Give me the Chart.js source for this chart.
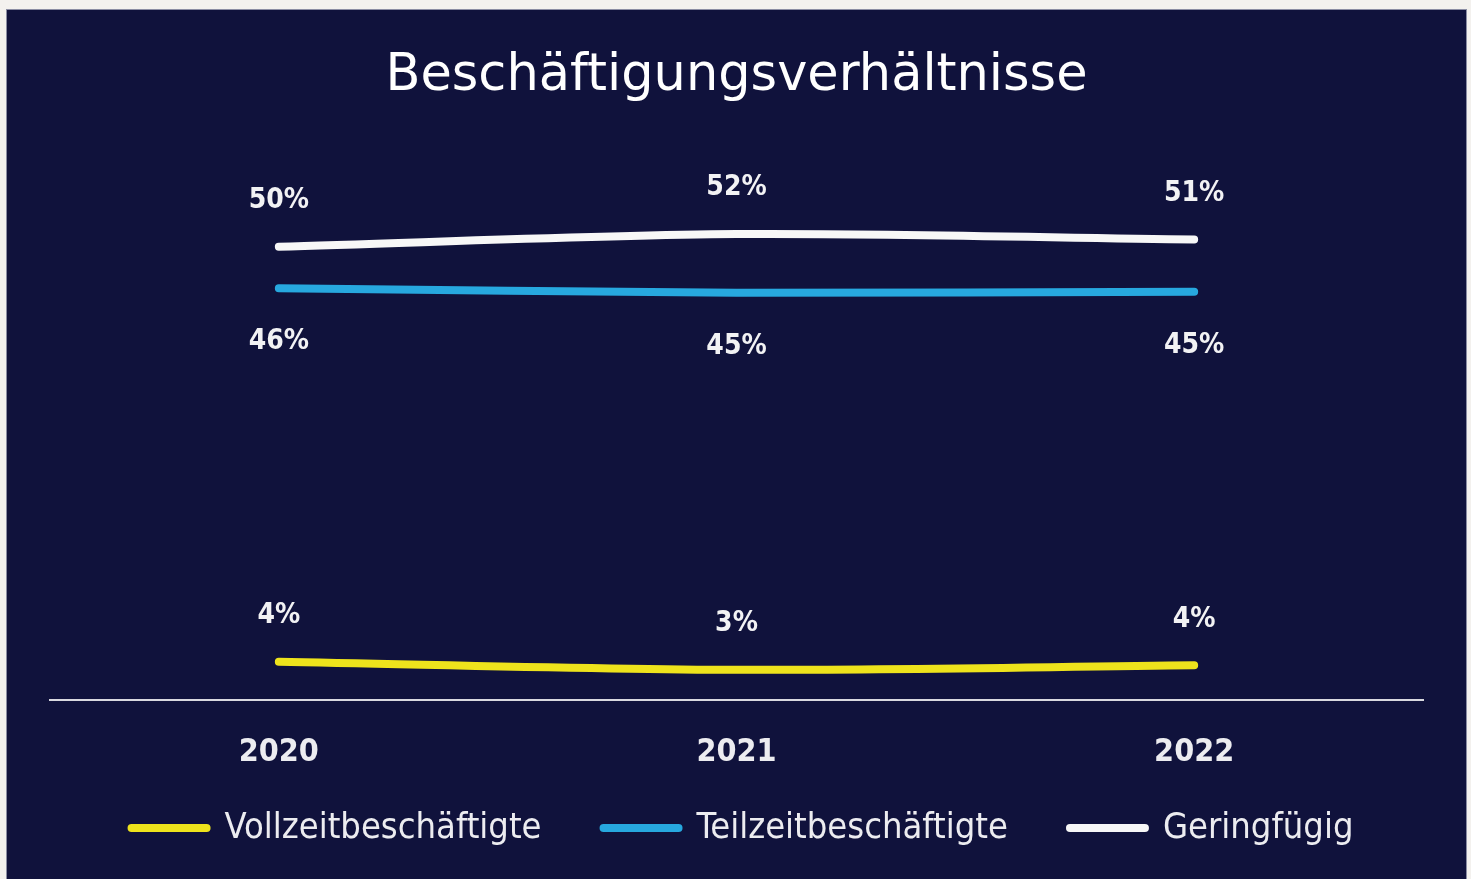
<!DOCTYPE html>
<html>
<head>
<meta charset="utf-8">
<script src="https://cdn.jsdelivr.net/npm/chart.js@4.4.0/dist/chart.umd.min.js"></script>
<style>
  html, body { margin: 0; padding: 0; background: #f3f1ee; overflow: hidden; }
  #panel { position: absolute; left: 7px; top: 10px; width: 1459px; height: 869px; background: #10123c; box-shadow: 0 0 0 1px #8b8da3; }
  #wrap { position: relative; width: 1459px; height: 869px; }
</style>
</head>
<body>
<div id="panel"><div id="wrap"><canvas id="myChart"></canvas></div></div>
<script>
const years = ['2020', '2021', '2022'];
const vollzeit = [4.2, 3.3, 3.8];
const teilzeit = [45.6, 45.1, 45.2];
const geringfuegig = [50.2, 51.6, 51.0];

const fontName = '"DejaVu Sans Condensed", "DejaVu Sans", sans-serif';

// percentage labels above / below each point
const pctLabels = {
  id: 'pctLabels',
  afterDatasetsDraw(chart) {
    const c = chart.ctx;
    c.save();
    c.font = 'bold 28px ' + fontName;
    c.fillStyle = '#f2f2f4';
    c.textAlign = 'center';
    c.textBaseline = 'middle';
    chart.data.datasets.forEach((ds, i) => {
      chart.getDatasetMeta(i).data.forEach((pt, j) => {
        const y = ds.labelPos === 'below' ? pt.y + 54 : pt.y - 46;
        c.fillText(Math.round(ds.data[j]) + '%', pt.x, y);
      });
    });
    c.restore();
  }
};

// legend drawn by hand: the built-in one couples item spacing with its vertical padding
const lineLegend = {
  id: 'lineLegend',
  afterDraw(chart) {
    const c = chart.ctx;
    const lineLen = 75, textGap = 18, itemGap = 62, y = 818;
    c.save();
    c.font = '36px ' + fontName;
    c.textBaseline = 'middle';
    c.textAlign = 'left';
    const items = chart.data.datasets.map(ds => ({ ds, w: lineLen + textGap + c.measureText(ds.label).width }));
    const total = items.reduce((s, it) => s + it.w, 0) + itemGap * (items.length - 1);
    let x = (chart.width - total) / 2 + 6;
    items.forEach(it => {
      c.strokeStyle = it.ds.borderColor;
      c.lineWidth = 8;
      c.lineCap = 'round';
      c.beginPath();
      c.moveTo(x, y);
      c.lineTo(x + lineLen, y);
      c.stroke();
      c.fillStyle = '#ececf0';
      c.fillText(it.ds.label, x + lineLen + textGap, y + 1);
      x += it.w + itemGap;
    });
    c.restore();
  }
};

const ctx = document.getElementById('myChart');

const cfg = {
  type: 'line',
  data: {
    labels: years,
    datasets: [
      { label: 'Vollzeitbeschäftigte', data: vollzeit, borderColor: '#eee31c', labelPos: 'above' },
      { label: 'Teilzeitbeschäftigte', data: teilzeit, borderColor: '#27a8df', labelPos: 'below' },
      { label: 'Geringfügig', data: geringfuegig, borderColor: '#f7f7f7', labelPos: 'above' }
    ]
  },
  options: {
    responsive: true,
    maintainAspectRatio: false,
    animation: false,
    layout: { padding: { left: 43, right: 43, bottom: 73 } },
    elements: {
      line: { borderWidth: 8, tension: 0.3, borderCapStyle: 'round', borderJoinStyle: 'round' },
      point: { radius: 0, hoverRadius: 0 }
    },
    scales: {
      x: {
        offset: true,
        grid: { display: false, drawTicks: false },
        border: { display: true, color: '#d9d9df', width: 2 },
        ticks: { color: '#ececf0', padding: 34, font: { family: fontName, size: 32, weight: 'bold' } }
      },
      y: { display: false, min: 0, max: 62 }
    },
    plugins: {
      title: {
        display: true,
        text: 'Beschäftigungsverhältnisse',
        color: '#ffffff',
        font: { family: '"DejaVu Sans", sans-serif', size: 51, weight: 'normal' },
        padding: { top: 36, bottom: 33 }
      },
      legend: { display: false },
      tooltip: { enabled: false }
    }
  },
  plugins: [pctLabels, lineLegend]
};

let cht = new Chart(ctx, cfg);
</script>
</body>
</html>
